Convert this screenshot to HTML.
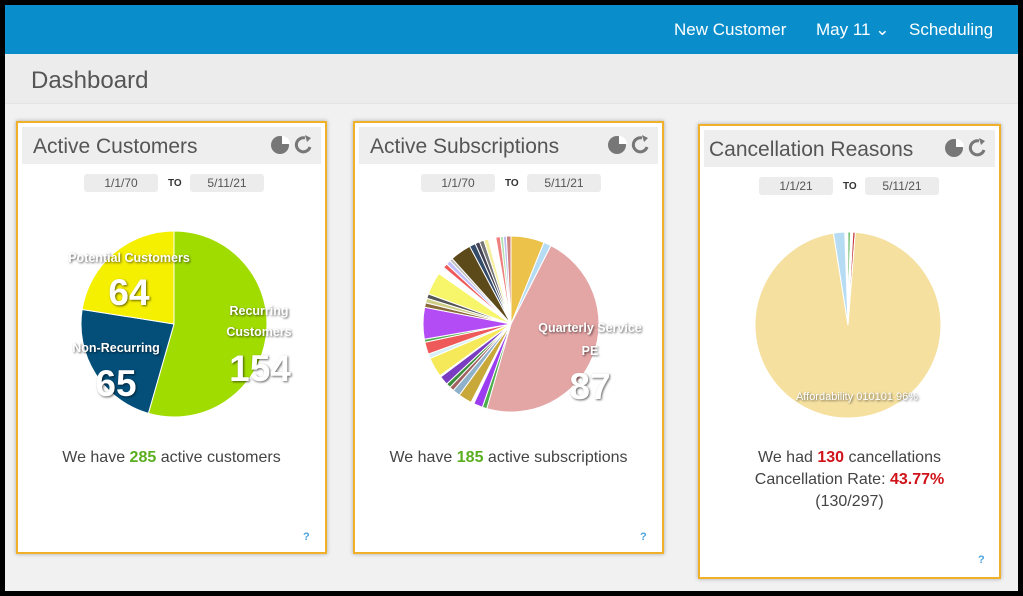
<!DOCTYPE html>
<html><head><meta charset="utf-8">
<style>
*{margin:0;padding:0;box-sizing:border-box}
body{width:1023px;height:596px;background:#000;font-family:"Liberation Sans",sans-serif;position:relative;overflow:hidden}
#frame{position:absolute;left:5px;top:5px;width:1013px;height:586px;background:#f1f1f1}
#nav{position:absolute;left:0;top:0;width:1013px;height:49px;background:#0a8ecb;color:#fff;font-size:17px}
#nav span{position:absolute;top:15px}
#sub{position:absolute;left:0;top:49px;width:1013px;height:50px;background:#ececec;border-bottom:1px solid #e4e4e4}
#sub div{position:absolute;left:26px;top:13px;font-size:24px;color:#555}
.card{position:absolute;border:2px solid #f0b02a;background:#fff;box-shadow:0 0 4px rgba(0,0,0,.3)}
.hd{position:absolute;left:4px;right:4px;top:4px;height:37px;background:#eeeeee}
.hd .t{position:absolute;left:11px;top:8px;font-size:21px;color:#555}
.hd .ic{position:absolute;right:8px;top:8px;width:42px;height:20px}
.date{position:absolute;top:51px;height:18px;background:#ececec;border-radius:3px;font-size:12px;color:#555;text-align:center;line-height:18px;width:74px}
.to{position:absolute;top:55px;font-size:10px;font-weight:bold;color:#333}
.msg{position:absolute;left:0;right:0;text-align:center;font-size:16px;color:#444}
.g{color:#5aae1e;font-weight:bold}
.r{color:#d0121b;font-weight:bold}
.q{position:absolute;font-size:11px;color:#4aa3df;font-weight:bold}
svg text{font-family:"Liberation Sans",sans-serif;font-weight:bold;fill:#fff}
</style></head><body>
<div id="frame">
<div id="nav"><span style="left:669px">New Customer</span><span style="left:811px">May 11 ⌄</span><span style="left:904px">Scheduling</span></div>
<div id="sub"><div>Dashboard</div></div>
</div>

<div class="card" style="left:16px;top:121px;width:311px;height:433px">
 <div class="hd"><div class="t">Active Customers</div><svg class="ic" viewBox="0 0 42 20"><circle cx="9" cy="10" r="9" fill="#777"/><path d="M11 9 L11 1 A8 8 0 0 1 19 9Z" fill="#fff"/><path d="M34 3 A7 7 0 1 0 39 12" stroke="#777" stroke-width="3" fill="none"/><path d="M34 0 L40 3 L36 7Z" fill="#777"/></svg></div>
 <div class="date" style="left:66px">1/1/70</div><div class="to" style="left:150px">TO</div><div class="date" style="left:172px">5/11/21</div>
 <div class="msg" style="top:326px">We have <span class="g">285</span> active customers</div>
 <div class="q" style="left:285px;top:408px">?</div>
</div>
<div class="card" style="left:353px;top:121px;width:311px;height:433px">
 <div class="hd"><div class="t">Active Subscriptions</div><svg class="ic" viewBox="0 0 42 20"><circle cx="9" cy="10" r="9" fill="#777"/><path d="M11 9 L11 1 A8 8 0 0 1 19 9Z" fill="#fff"/><path d="M34 3 A7 7 0 1 0 39 12" stroke="#777" stroke-width="3" fill="none"/><path d="M34 0 L40 3 L36 7Z" fill="#777"/></svg></div>
 <div class="date" style="left:66px">1/1/70</div><div class="to" style="left:150px">TO</div><div class="date" style="left:172px">5/11/21</div>
 <div class="msg" style="top:326px">We have <span class="g">185</span> active subscriptions</div>
 <div class="q" style="left:285px;top:408px">?</div>
</div>
<div class="card" style="left:698px;top:124px;width:303px;height:455px">
 <div class="hd"><div class="t" style="left:5px">Cancellation Reasons</div><svg class="ic" viewBox="0 0 42 20"><circle cx="9" cy="10" r="9" fill="#777"/><path d="M11 9 L11 1 A8 8 0 0 1 19 9Z" fill="#fff"/><path d="M34 3 A7 7 0 1 0 39 12" stroke="#777" stroke-width="3" fill="none"/><path d="M34 0 L40 3 L36 7Z" fill="#777"/></svg></div>
 <div class="date" style="left:59px">1/1/21</div><div class="to" style="left:143px">TO</div><div class="date" style="left:165px">5/11/21</div>
 <div class="msg" style="top:321px;line-height:22px">We had <span class="r">130</span> cancellations<br>Cancellation Rate: <span class="r">43.77%</span><br>(130/297)</div>
 <div class="q" style="left:278px;top:428px">?</div>
</div>

<svg id="pies" width="1023" height="596" style="position:absolute;left:0;top:0">
<g id="p1" transform="translate(174,324)"></g>
<g id="p2" transform="translate(511,324)"></g>
<g id="p3" transform="translate(848,325)"></g>
<g style="filter:drop-shadow(1px 1px 1px rgba(0,0,0,.6))">
<text x="129" y="262" font-size="12.5" text-anchor="middle">Potential Customers</text>
<text x="129" y="305" font-size="37" text-anchor="middle">64</text>
<text x="116" y="352" font-size="12.5" text-anchor="middle">Non-Recurring</text>
<text x="116" y="396" font-size="37" text-anchor="middle">65</text>
<text x="259" y="315" font-size="12.5" text-anchor="middle">Recurring</text>
<text x="259" y="336" font-size="12.5" text-anchor="middle">Customers</text>
<text x="260" y="381" font-size="37" text-anchor="middle">154</text>
<text x="590" y="332" font-size="12.5" text-anchor="middle">Quarterly Service</text>
<text x="590" y="355" font-size="12.5" text-anchor="middle">PE</text>
<text x="590" y="399" font-size="37" text-anchor="middle">87</text>
<text x="857" y="400" font-size="11" text-anchor="middle" style="font-weight:normal">Affordability 010101 96%</text>
</g>
</svg>
<script>
function pie(id,r,sl){var g=document.getElementById(id),h='';
sl.forEach(function(s){var a=s[0]*Math.PI/180,b=s[1]*Math.PI/180;
var x1=r*Math.sin(a),y1=-r*Math.cos(a),x2=r*Math.sin(b),y2=-r*Math.cos(b);
h+='<path d="M0,0 L'+x1.toFixed(2)+','+y1.toFixed(2)+' A'+r+','+r+' 0 '+((s[1]-s[0])>180?1:0)+' 1 '+x2.toFixed(2)+','+y2.toFixed(2)+'Z" fill="'+s[2]+'" stroke="#fff" stroke-width="1"/>';});
g.innerHTML=h;}
pie('p1',93,[[0,196,'#a1dc00'],[196,279,'#034f7a'],[279,360,'#f5ef00']]);
pie('p2',88,[[0,22,'#ecc24a'],[22,27,'#b6dcf3'],[27,196,'#e4a5a5'],[196,199,'#4cae4c'],[199,205,'#9b3cf0'],[207,216,'#c9a83a'],[216,221,'#8fb1c9'],[221,224,'#a06060'],[224,227,'#3c8f3c'],[227,233,'#7a3cc0'],[234,247,'#f5e95a'],[247,250,'#d7f0f7'],[250,258,'#ee5a5a'],[258,260,'#4cae4c'],[260,281,'#b44cf5'],[281,284,'#8b6a3a'],[284,287,'#cfcf8a'],[287,290,'#555'],[290,305,'#f7f56a'],[310,313,'#ee5a5a'],[313,316,'#c0c0ff'],[316,318,'#bbb'],[318,332,'#5d4a1a'],[332,336,'#344b6a'],[336,339,'#445'],[339,342,'#777'],[342,345,'#f5f0a0'],[350,353,'#f08080'],[353,355,'#b0e0b0'],[355,357,'#c0c0f0'],[357,360,'#d08080']]);
pie('p3',93,[[0,1.5,'#4cae4c'],[1.5,3,'#fff'],[3,4.5,'#c43c3c'],[4.5,351,'#f5e0a0'],[351,358,'#b6dcf3']]);
</script>
</body></html>
